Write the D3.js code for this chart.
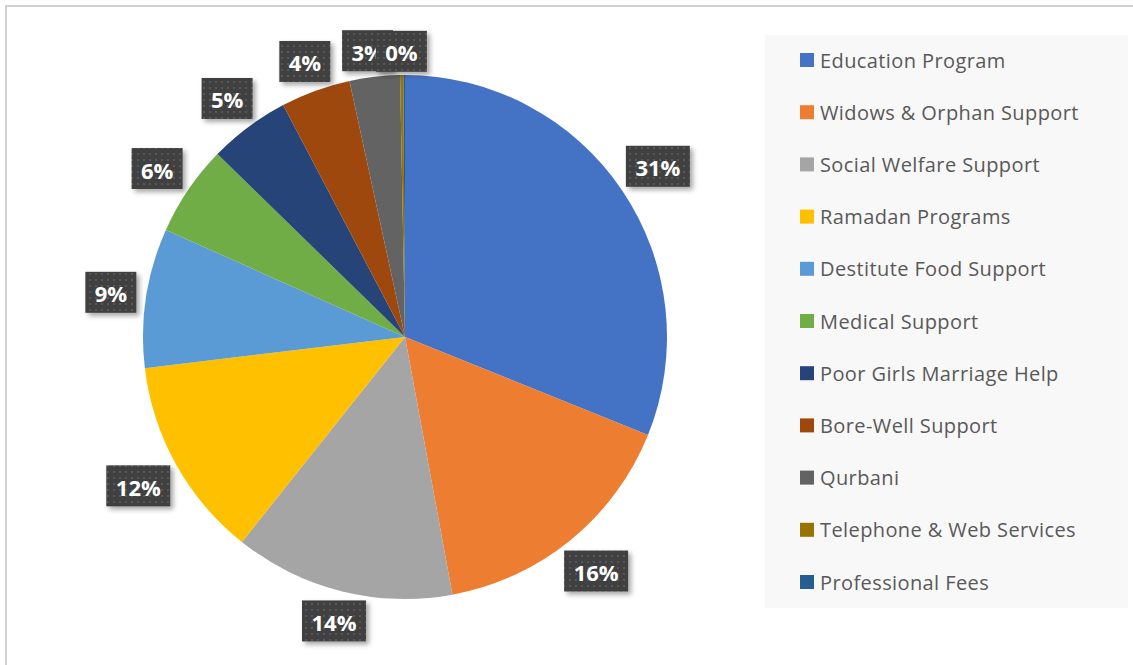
<!DOCTYPE html>
<html>
<head>
<meta charset="utf-8">
<script src="https://cdn.jsdelivr.net/npm/d3@7"></script>
<style>
  body { margin: 0; background: #fff; }
  svg { display: block; }
</style>
</head>
<body>
<script>
var categories = ["Education Program", "Widows & Orphan Support", "Social Welfare Support",
  "Ramadan Programs", "Destitute Food Support", "Medical Support", "Poor Girls Marriage Help",
  "Bore-Well Support", "Qurbani", "Telephone & Web Services", "Professional Fees"];
var shares = [31.1, 16.0, 13.6, 12.4, 8.6, 5.6, 5.0, 4.3, 3.1, 0.2, 0.1];
var colors = ["#4472C4", "#ED7D31", "#A5A5A5", "#FFC000", "#5B9BD5", "#70AD47",
  "#264478", "#9E480E", "#636363", "#997300", "#255E91"];

var width = 1133, height = 665;
var cx = 405, cy = 337, radius = 262;

var svg = d3.select("body").append("svg")
  .attr("width", width)
  .attr("height", height);

var defs = svg.append("defs");

// dotted fill of the label boxes
var pat = defs.append("pattern")
  .attr("id", "dots")
  .attr("width", 6).attr("height", 6)
  .attr("patternUnits", "userSpaceOnUse");
pat.append("rect").attr("width", 6).attr("height", 6).attr("fill", "#404040");
pat.append("rect").attr("x", 2).attr("y", 2).attr("width", 2).attr("height", 2).attr("fill", "#585858");

var shadow = defs.append("filter").attr("id", "shadow")
  .attr("x", "-30%").attr("y", "-30%").attr("width", "160%").attr("height", "160%");
shadow.append("feDropShadow")
  .attr("dx", 3).attr("dy", 3).attr("stdDeviation", 2.5)
  .attr("flood-color", "#000").attr("flood-opacity", 0.35);

// chart border
svg.append("rect")
  .attr("x", 6).attr("y", 6)
  .attr("width", 1200).attr("height", 700)
  .attr("fill", "#fff")
  .attr("stroke", "#d0d0d0")
  .attr("stroke-width", 2);

var color = d3.scaleOrdinal().domain(categories).range(colors);

var pie = d3.pie().sort(null).value(function(d, i) { return shares[i]; });
var arcs = pie(categories);
var total = d3.sum(shares);

var arc = d3.arc().innerRadius(0).outerRadius(radius);

var g = svg.append("g").attr("transform", "translate(" + cx + "," + cy + ")");

g.selectAll("path.slice")
  .data(arcs)
  .enter().append("path")
  .attr("class", "slice")
  .attr("d", arc)
  .attr("fill", function(d) { return color(d.data); });

// data labels, placed just outside the pie
var labels = arcs.filter(function(d) { return d.index < 10; });
var lg = g.selectAll("g.lbl")
  .data(labels)
  .enter().append("g")
  .attr("class", "lbl");

lg.each(function(d) {
  var sel = d3.select(this);
  var txt = Math.round(d.value / total * 100) + "%";
  var w = txt.length === 3 ? 64 : 51, h = 41;
  var a = (d.startAngle + d.endAngle) / 2;
  var dx = Math.sin(a), dy = -Math.cos(a);
  var dist = radius + 8 + Math.abs(dx) * w / 2 + Math.abs(dy) * h / 2 * 0.75;
  var x = dx * dist, y = dy * dist;
  if (d.index === 8) x -= 4;
  sel.append("rect")
    .attr("x", x - w / 2).attr("y", y - h / 2)
    .attr("width", w).attr("height", h)
    .attr("fill", "url(#dots)")
    .attr("filter", "url(#shadow)");
  sel.append("text")
    .attr("x", x).attr("y", y + 1)
    .attr("text-anchor", "middle")
    .attr("dominant-baseline", "central")
    .attr("font-family", "'Open Sans', sans-serif")
    .attr("font-weight", "bold")
    .attr("font-size", "22px")
    .attr("fill", "#fff")
    .text(txt);
});

// legend
svg.append("rect")
  .attr("x", 765).attr("y", 35)
  .attr("width", 363).attr("height", 573)
  .attr("fill", "#f8f8f8");

var ly = d3.scalePoint().domain(categories).range([60, 582]);

var leg = svg.selectAll("g.leg")
  .data(categories)
  .enter().append("g")
  .attr("class", "leg")
  .attr("transform", function(d) { return "translate(800," + ly(d) + ")"; });

leg.append("rect")
  .attr("x", 0).attr("y", -7)
  .attr("width", 14).attr("height", 14)
  .attr("fill", function(d) { return color(d); });

leg.append("text")
  .attr("x", 20).attr("y", 0)
  .attr("dominant-baseline", "central")
  .attr("font-family", "'Open Sans', sans-serif")
  .attr("font-size", "20px")
  .attr("letter-spacing", "0.4px")
  .attr("fill", "#595959")
  .text(function(d) { return d; });
</script>
</body>
</html>
